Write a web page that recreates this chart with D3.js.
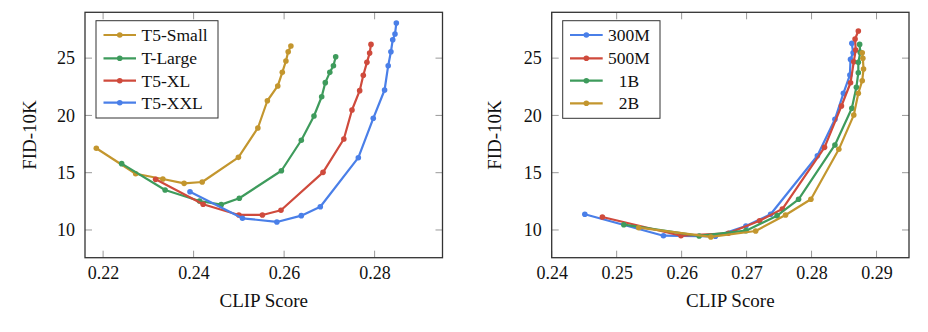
<!DOCTYPE html>
<html><head><meta charset="utf-8">
<script src="https://cdn.jsdelivr.net/npm/d3@7"></script>
<style>
html,body{margin:0;padding:0;background:#fff;}
svg{display:block;}
svg text{font-family:"Liberation Serif","Times New Roman",Tinos,"DejaVu Serif","Noto Serif",serif !important;fill:#111;}
</style></head>
<body><svg id="c" width="928" height="332"></svg>
<script>
// ---------- Left chart data (text encoder) ----------
const leftNames = ["T5-Small", "T-Large", "T5-XL", "T5-XXL"];
const t5SmallX = [0.2185,0.2272,0.2332,0.2379,0.2419,0.2499,0.2542,0.2563,0.2586,0.2596,0.2604,0.2609,0.2615];
const t5SmallY = [17.13,14.91,14.45,14.07,14.19,16.34,18.9,21.28,22.57,23.76,24.75,25.56,26.06];
const tLargeX = [0.2241,0.2337,0.2413,0.2461,0.2501,0.2594,0.2638,0.2666,0.2683,0.2691,0.2701,0.2709,0.2714];
const tLargeY = [15.79,13.49,12.53,12.21,12.77,15.17,17.83,19.95,21.63,22.86,23.76,24.34,25.12];
const t5XLX = [0.2316,0.2421,0.2500,0.2552,0.2593,0.2686,0.2732,0.2750,0.2767,0.2775,0.2783,0.2789,0.2792];
const t5XLY = [14.42,12.24,11.31,11.31,11.72,15.03,17.94,20.47,22.16,23.50,24.63,25.44,26.2];
const t5XXLX = [0.2392,0.2508,0.2584,0.2638,0.2680,0.2764,0.2797,0.2822,0.2830,0.2836,0.2840,0.2845,0.2848];
const t5XXLY = [13.34,11.02,10.70,11.25,12.03,16.31,19.75,22.22,24.34,25.56,26.6,27.10,28.06];
const leftXTicks = [0.22, 0.24, 0.26, 0.28];

// ---------- Right chart data (model size) ----------
const rightNames = ["300M", "500M", "1B", "2B"];
const m300X = [0.2451,0.2572,0.2652,0.2699,0.2737,0.2809,0.2836,0.2849,0.2859,0.2860,0.2864,0.2862];
const m300Y = [11.37,9.50,9.45,10.35,11.37,16.48,19.66,21.93,23.52,24.89,25.47,26.29];
const m500X = [0.2478,0.2599,0.2672,0.2720,0.2755,0.2820,0.2846,0.2860,0.2865,0.2868,0.2867,0.2872];
const m500Y = [11.13,9.50,9.71,10.81,11.83,17.21,20.82,22.85,24.69,25.71,26.67,27.37];
const b1X = [0.2511,0.2627,0.2699,0.2747,0.2780,0.2836,0.2862,0.2869,0.2872,0.2872,0.2875,0.2874];
const b1Y = [10.46,9.48,9.94,11.25,12.68,17.42,20.62,22.45,23.73,24.63,25.5,26.2];
const b2X = [0.2534,0.2645,0.2714,0.2760,0.2799,0.2842,0.2865,0.2872,0.2878,0.2880,0.2879,0.2878];
const b2Y = [10.2,9.39,9.91,11.31,12.68,17.04,20.03,21.93,23.03,24.05,24.98,25.47];
const rightXTicks = [0.24, 0.25, 0.26, 0.27, 0.28, 0.29];

const yTicks = [10, 15, 20, 25];
const colors = {blue:"#4a7fe8", red:"#cf4a3c", green:"#3e9b5c", gold:"#c3962e"};
const serif = "'Liberation Serif','Times New Roman',Tinos,'DejaVu Serif',serif";

const zip = (xs, ys) => xs.map((x, i) => [x, ys[i]]);

const svg = d3.select("#c");

function drawChart(cfg) {
  const {left, right, top, bottom, xDomain, xTicks, yDomain, series, legend} = cfg;
  const x = d3.scaleLinear().domain(xDomain).range([left, right]);
  const y = d3.scaleLinear().domain(yDomain).range([bottom, top]);
  const g = svg.append("g");

  const tickLen = 7;
  xTicks.forEach(t => {
    g.append("line").attr("x1", x(t)).attr("x2", x(t)).attr("y1", bottom).attr("y2", bottom - tickLen)
      .attr("stroke", "#999").attr("stroke-width", 1);
    g.append("line").attr("x1", x(t)).attr("x2", x(t)).attr("y1", top).attr("y2", top + tickLen)
      .attr("stroke", "#999").attr("stroke-width", 1);
  });
  yTicks.forEach(t => {
    g.append("line").attr("x1", left).attr("x2", left + tickLen).attr("y1", y(t)).attr("y2", y(t))
      .attr("stroke", "#999").attr("stroke-width", 1);
    g.append("line").attr("x1", right).attr("x2", right - tickLen).attr("y1", y(t)).attr("y2", y(t))
      .attr("stroke", "#999").attr("stroke-width", 1);
  });

  const xAxis = d3.axisBottom(x).tickValues(xTicks).tickFormat(d3.format(".2f")).tickSize(0).tickPadding(9);
  const xa = g.append("g").attr("transform", `translate(0,${bottom})`).call(xAxis)
    .attr("font-family", serif).attr("font-size", 18);
  xa.select(".domain").remove();
  xa.selectAll("text").attr("fill", "#111");

  const yAxis = d3.axisLeft(y).tickValues(yTicks).tickFormat(d3.format("d")).tickSize(0).tickPadding(10);
  const ya = g.append("g").attr("transform", `translate(${left},0)`).call(yAxis)
    .attr("font-family", serif).attr("font-size", 18);
  ya.select(".domain").remove();
  ya.selectAll("text").attr("fill", "#111");

  const line = d3.line().x(d => x(d[0])).y(d => y(d[1]));
  series.forEach(s => {
    g.append("path").datum(s.data).attr("d", line).attr("fill", "none")
      .attr("stroke", s.color).attr("stroke-width", 2.2).attr("stroke-linejoin", "round");
    g.selectAll(null).data(s.data).enter().append("circle")
      .attr("cx", d => x(d[0])).attr("cy", d => y(d[1])).attr("r", 2.8).attr("fill", s.color);
  });

  g.append("rect").attr("x", left).attr("y", top).attr("width", right - left).attr("height", bottom - top)
    .attr("fill", "none").attr("stroke", "#333").attr("stroke-width", 1.3);

  g.append("text").attr("x", (left + right) / 2).attr("y", 307).attr("text-anchor", "middle")
    .attr("font-family", serif).attr("font-size", 19).text("CLIP Score");
  g.append("text").attr("transform", `translate(${cfg.yLabelX},${(top + bottom) / 2}) rotate(-90)`)
    .attr("text-anchor", "middle").attr("font-family", serif).attr("font-size", 19).text("FID-10K");

  const L = legend;
  g.append("rect").attr("x", L.x0).attr("y", L.y0).attr("width", L.x1 - L.x0).attr("height", L.y1 - L.y0)
    .attr("fill", "#fff").attr("stroke", "#333").attr("stroke-width", 1);
  series.forEach((s, i) => {
    const yy = L.rows[i];
    g.append("line").attr("x1", L.lx0).attr("x2", L.lx1).attr("y1", yy).attr("y2", yy)
      .attr("stroke", s.color).attr("stroke-width", 2.2);
    g.append("circle").attr("cx", (L.lx0 + L.lx1) / 2).attr("cy", yy).attr("r", 2.8).attr("fill", s.color);
    g.append("text").attr("x", L.tx).attr("y", yy).attr("dy", "0.35em")
      .attr("text-anchor", L.anchor).attr("font-family", serif).attr("font-size", 17.5).text(s.name);
  });
}

const yDomain = [7.58, 29.0];

drawChart({
  left: 85, right: 442.5, top: 12.3, bottom: 257.7,
  xDomain: [0.216, 0.295], xTicks: leftXTicks, yDomain, yLabelX: 36,
  series: [
    {name: leftNames[0], color: colors.gold, data: zip(t5SmallX, t5SmallY)},
    {name: leftNames[1], color: colors.green, data: zip(tLargeX, tLargeY)},
    {name: leftNames[2], color: colors.red, data: zip(t5XLX, t5XLY)},
    {name: leftNames[3], color: colors.blue, data: zip(t5XXLX, t5XXLY)}
  ],
  legend: {x0: 96, x1: 218, y0: 20.7, y1: 118, rows: [35, 58.3, 80.7, 102.7],
           lx0: 103.5, lx1: 136, tx: 141.5, anchor: "start"}
});

drawChart({
  left: 551.7, right: 909, top: 12.3, bottom: 257.7,
  xDomain: [0.24, 0.295], xTicks: rightXTicks, yDomain, yLabelX: 501,
  series: [
    {name: rightNames[0], color: colors.blue, data: zip(m300X, m300Y)},
    {name: rightNames[1], color: colors.red, data: zip(m500X, m500Y)},
    {name: rightNames[2], color: colors.green, data: zip(b1X, b1Y)},
    {name: rightNames[3], color: colors.gold, data: zip(b2X, b2Y)}
  ],
  legend: {x0: 562.7, x1: 660, y0: 20.7, y1: 118.3, rows: [35, 58.3, 80.7, 103.3],
           lx0: 570, lx1: 602.7, tx: 629, anchor: "middle"}
});
</script></body></html>
